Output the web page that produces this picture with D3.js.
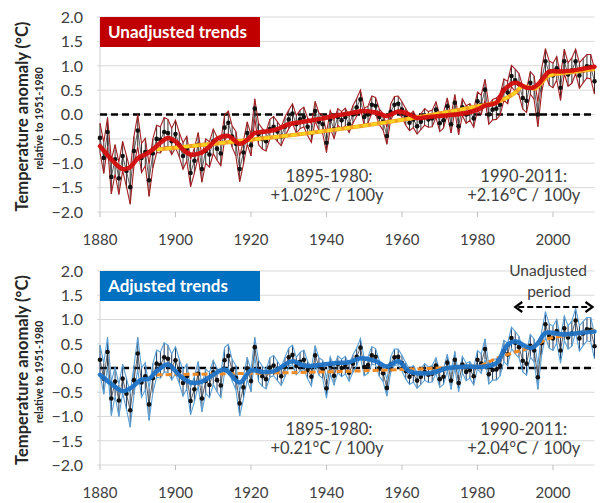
<!DOCTYPE html>
<html>
<head>
<meta charset="utf-8">
<script src="https://cdn.jsdelivr.net/npm/d3@7"></script>
<style>
body { margin: 0; background: #fff; }
text { font-family: Lato, "Open Sans", sans-serif; }
</style>
</head>
<body>
<svg id="mainsvg" width="612" height="503"></svg>
<script>
// years 1880..2011, one value per year
const firstYear = 1880;

const unadjusted = [
  -0.48, -0.89, -0.36, -1.28, -0.92, -1.31, -0.85, -1.16, -1.49, -0.75,
  -0.33, -0.89, -0.77, -1.35, -0.80, -0.50, -0.52, -0.36, -0.38, -0.55,
  -0.40, -0.62, -0.85, -0.70, -1.20, -0.95, -0.62, -1.12, -0.75, -0.82,
  -0.55, -0.70, -0.80, -0.27, -0.17, -0.45, -0.60, -1.12, -0.78, -0.38,
  -0.63, 0.12, -0.40, -0.50, -0.55, -0.30, -0.25, -0.35, -0.45, -0.25,
  -0.10, 0.02, -0.20, -0.10, -0.05, -0.25, -0.38, 0.07, -0.15, -0.20,
  -0.58, -0.10, -0.30, -0.05, -0.12, -0.05, -0.20, 0.00, 0.15, 0.31,
  -0.05, 0.00, 0.20, 0.18, -0.05, -0.15, -0.44, 0.05, 0.20, 0.22,
  0.10, -0.05, -0.17, -0.10, -0.24, -0.15, -0.05, -0.10, -0.08, 0.10,
  -0.18, -0.12, 0.17, -0.20, 0.24, -0.24, 0.15, 0.00, 0.05, -0.08,
  0.27, 0.20, 0.51, 0.00, 0.10, 0.12, 0.20, 0.51, 0.45, 0.79,
  0.70, 0.62, 0.34, 0.28, 0.65, 0.55, 0.00, 0.70, 1.09, 0.85,
  0.80, 0.95, 0.55, 1.09, 0.82, 0.90, 1.09, 0.80, 0.90, 0.99,
  0.98, 0.68
];

const adjusted = [
  0.17, -0.22, 0.33, -0.63, -0.28, -0.67, -0.22, -0.53, -0.87, -0.25,
  0.30, -0.30, -0.17, -0.75, -0.21, 0.09, 0.06, 0.22, 0.19, 0.02,
  0.16, -0.07, -0.31, -0.17, -0.68, -0.44, -0.12, -0.63, -0.27, -0.35,
  -0.09, -0.25, -0.36, 0.16, 0.25, -0.04, -0.20, -0.73, -0.40, -0.01,
  -0.27, 0.43, -0.06, -0.17, -0.23, 0.01, 0.05, -0.06, -0.17, 0.02,
  0.22, 0.27, 0.04, 0.13, 0.17, -0.04, -0.18, 0.26, 0.03, -0.03,
  -0.42, 0.05, -0.16, 0.08, 0.00, 0.06, -0.10, 0.09, 0.23, 0.42,
  0.02, 0.06, 0.26, 0.23, -0.01, -0.11, -0.41, 0.07, 0.22, 0.23,
  0.10, -0.06, -0.18, -0.12, -0.26, -0.18, -0.08, -0.14, -0.12, 0.05,
  -0.23, -0.18, 0.11, -0.26, 0.17, -0.31, 0.07, -0.08, -0.04, -0.17,
  0.17, 0.09, 0.39, -0.13, -0.04, -0.03, 0.05, 0.35, 0.28, 0.62,
  0.52, 0.43, 0.15, 0.09, 0.46, 0.36, -0.19, 0.51, 0.90, 0.66,
  0.61, 0.76, 0.36, 0.82, 0.63, 0.71, 0.98, 0.61, 0.71, 0.80,
  0.79, 0.45
];

// half width of the uncertainty band, per year
const spread = [
  0.30, 0.32, 0.30, 0.35, 0.30, 0.33, 0.30, 0.32, 0.35, 0.30,
  0.33, 0.30, 0.28, 0.33, 0.30, 0.28, 0.27, 0.30, 0.28, 0.27,
  0.28, 0.25, 0.27, 0.25, 0.28, 0.26, 0.25, 0.27, 0.25, 0.26,
  0.25, 0.24, 0.25, 0.26, 0.24, 0.22, 0.25, 0.26, 0.24, 0.23,
  0.22, 0.20, 0.22, 0.21, 0.20, 0.20, 0.21, 0.20, 0.19, 0.20,
  0.19, 0.20, 0.18, 0.19, 0.20, 0.18, 0.19, 0.20, 0.18, 0.19,
  0.20, 0.18, 0.19, 0.17, 0.18, 0.18, 0.17, 0.18, 0.18, 0.19,
  0.18, 0.17, 0.18, 0.17, 0.16, 0.17, 0.17, 0.16, 0.17, 0.16,
  0.16, 0.17, 0.16, 0.17, 0.16, 0.16, 0.17, 0.16, 0.17, 0.16,
  0.17, 0.16, 0.17, 0.18, 0.17, 0.18, 0.17, 0.18, 0.17, 0.18,
  0.19, 0.20, 0.21, 0.20, 0.21, 0.22, 0.21, 0.22, 0.23, 0.22,
  0.23, 0.22, 0.23, 0.24, 0.23, 0.24, 0.25, 0.24, 0.26, 0.25,
  0.25, 0.24, 0.26, 0.25, 0.24, 0.26, 0.25, 0.26, 0.25, 0.24,
  0.25, 0.26
];

// smoothed curves (thick lines)
const smoothYearsU = [1880, 1883, 1886, 1888, 1890, 1892, 1894, 1896, 1898, 1900, 1902, 1904, 1907, 1909, 1911, 1914, 1917, 1919, 1921, 1924, 1927, 1930, 1933, 1936, 1939, 1942, 1946, 1950, 1953, 1956, 1959, 1962, 1964, 1967, 1970, 1974, 1977, 1980, 1982, 1985, 1987, 1990, 1993, 1995, 1997, 1999, 2002, 2005, 2008, 2011];
const smoothU = [-0.65, -0.92, -1.12, -1.08, -0.90, -0.82, -0.72, -0.58, -0.48, -0.55, -0.72, -0.82, -0.78, -0.66, -0.50, -0.44, -0.60, -0.52, -0.38, -0.35, -0.30, -0.20, -0.16, -0.12, -0.08, -0.03, 0.02, 0.07, 0.04, -0.03, 0.06, 0.00, -0.07, -0.05, -0.03, 0.00, 0.03, 0.10, 0.18, 0.24, 0.50, 0.65, 0.55, 0.56, 0.70, 0.88, 0.88, 0.90, 0.94, 0.98];

const smoothYearsA = [1880, 1883, 1886, 1888, 1891, 1893, 1895, 1898, 1901, 1904, 1907, 1910, 1913, 1917, 1920, 1923, 1926, 1931, 1934, 1937, 1942, 1946, 1949, 1953, 1956, 1959, 1962, 1968, 1972, 1977, 1982, 1985, 1988, 1990, 1994, 1996, 1998, 2003, 2008, 2011];
const smoothA = [-0.14, -0.33, -0.48, -0.42, -0.24, -0.22, -0.07, 0.07, -0.15, -0.30, -0.28, -0.14, -0.03, -0.30, -0.05, -0.08, -0.07, 0.14, 0.05, 0.05, 0.10, 0.12, 0.20, 0.14, 0.03, 0.14, -0.07, -0.10, 0.00, 0.03, 0.03, 0.10, 0.48, 0.55, 0.41, 0.51, 0.72, 0.69, 0.73, 0.75];

// trend lines
const trendYearsU = [1895, 1980, 1985, 1990, 1992, 1995, 1999, 2004, 2011];
const trendU = [-0.72, 0.17, 0.25, 0.45, 0.58, 0.53, 0.80, 0.86, 0.93];
const trendYearsA = [1895, 1980, 1985, 1990, 1995, 1998, 2004, 2011];
const trendA = [-0.14, 0.04, 0.20, 0.33, 0.45, 0.58, 0.68, 0.78];

// text
const yTicks = [-2, -1.5, -1, -0.5, 0, 0.5, 1, 1.5, 2];
const xTicks = [1880, 1900, 1920, 1940, 1960, 1980, 2000];
const periods = ['1895-1980:', '1990-2011:'];
const periodCentres = [1932, 1992];
const ratesU = ['+1.02°C / 100y', '+2.16°C / 100y'];
const ratesA = ['+0.21°C / 100y', '+2.04°C / 100y'];

var svg = d3.select('#mainsvg');

var xScale = d3.scaleLinear()
    .domain([1880, 2011])
    .range([100, 594.5]);

function rows(vals) {
    return vals.map((v, i) => ({year: firstYear + i, v: v, lo: v - spread[i], hi: v + spread[i]}));
}

function drawPanel(p) {
    var yScale = d3.scaleLinear().domain([-2, 2]).range([p.bottom, p.top]);
    var g = svg.append('g');

    // gridlines
    g.selectAll('.grid').data(yTicks).enter().append('line')
        .attr('x1', 97).attr('x2', xScale(2011))
        .attr('y1', d => yScale(d)).attr('y2', d => yScale(d))
        .attr('stroke', '#d9d9d9').attr('stroke-width', 1);
    g.append('line')
        .attr('x1', 100).attr('x2', 100)
        .attr('y1', yScale(2)).attr('y2', yScale(-2))
        .attr('stroke', '#d0d0d0');

    // y tick labels
    g.selectAll('.ylab').data(yTicks).enter().append('text')
        .attr('x', 83).attr('y', d => yScale(d))
        .attr('dy', '0.36em')
        .attr('text-anchor', 'end')
        .attr('font-size', 16)
        .attr('fill', '#404040')
        .text(d => d3.format('.1f')(d));

    // x ticks + labels
    g.selectAll('.xt').data(xTicks).enter().append('line')
        .attr('x1', d => xScale(d)).attr('x2', d => xScale(d))
        .attr('y1', yScale(-2)).attr('y2', yScale(-2) + 5)
        .attr('stroke', '#bfbfbf');
    g.selectAll('.xlab').data(xTicks).enter().append('text')
        .attr('x', d => xScale(d)).attr('y', yScale(-2) + 33)
        .attr('text-anchor', 'middle')
        .attr('font-size', 15)
        .attr('fill', '#404040')
        .text(d => d);

    // axis title
    var cy = (p.top + p.bottom) / 2 + 2;
    g.append('text')
        .attr('transform', 'translate(28,' + cy + ') rotate(-90)')
        .attr('text-anchor', 'middle')
        .attr('font-size', 16.5).attr('font-weight', 'bold')
        .attr('fill', '#262626')
        .text('Temperature anomaly (°C)');
    g.append('text')
        .attr('transform', 'translate(43,' + (cy + 2) + ') rotate(-90)')
        .attr('text-anchor', 'middle')
        .attr('font-size', 10.5).attr('font-weight', 'bold')
        .attr('fill', '#262626')
        .text('relative to 1951-1980');

    // zero line
    g.append('line')
        .attr('x1', 100).attr('x2', xScale(2011))
        .attr('y1', yScale(0)).attr('y2', yScale(0))
        .attr('stroke', '#000').attr('stroke-width', 2.4)
        .attr('stroke-dasharray', '7,4');

    var data = rows(p.values);
    var line = d3.line().x(d => xScale(d.year));

    // high-low bars
    g.selectAll('.hl').data(data).enter().append('line')
        .attr('x1', d => xScale(d.year)).attr('x2', d => xScale(d.year))
        .attr('y1', d => yScale(d.lo)).attr('y2', d => yScale(d.hi))
        .attr('stroke', p.barColor).attr('stroke-width', 1);

    // band outlines
    g.append('path').datum(data)
        .attr('d', line.y(d => yScale(d.hi)))
        .attr('fill', 'none').attr('stroke', p.bandColor).attr('stroke-width', 1.1);
    g.append('path').datum(data)
        .attr('d', line.y(d => yScale(d.lo)))
        .attr('fill', 'none').attr('stroke', p.bandColor).attr('stroke-width', 1.1);

    // annual values
    g.append('path').datum(data)
        .attr('d', line.y(d => yScale(d.v)))
        .attr('fill', 'none').attr('stroke', '#333').attr('stroke-width', 0.8);
    g.selectAll('.dot').data(data).enter().append('circle')
        .attr('cx', d => xScale(d.year)).attr('cy', d => yScale(d.v))
        .attr('r', 2.3).attr('fill', '#111');

    // trend
    var curve = d3.line().x(d => xScale(d[0])).y(d => yScale(d[1])).curve(d3.curveMonotoneX);
    var trend = d3.zip(p.trendYears, p.trend);
    if (p.trendUnder) {
        g.append('path').datum(trend)
            .attr('d', curve)
            .attr('fill', 'none').attr('stroke', p.trendUnder).attr('stroke-width', 4);
    }
    g.append('path').datum(trend)
        .attr('d', curve)
        .attr('fill', 'none').attr('stroke', p.trendColor).attr('stroke-width', 3)
        .attr('stroke-dasharray', '6,3');

    // smooth
    var smooth = d3.zip(p.smoothYears, p.smooth);
    g.append('path').datum(smooth)
        .attr('d', curve.curve(d3.curveCatmullRom.alpha(0.5)))
        .attr('fill', 'none').attr('stroke', p.smoothColor).attr('stroke-width', 4.5)
        .attr('stroke-linecap', 'round').attr('stroke-opacity', 0.95);

    // label box
    g.append('rect')
        .attr('x', 100).attr('y', p.top)
        .attr('width', 160).attr('height', 30)
        .attr('fill', p.boxColor);
    g.append('text')
        .attr('x', 108).attr('y', p.top + 21)
        .attr('font-size', 17).attr('font-weight', 'bold')
        .attr('fill', '#fff')
        .text(p.label);

    // period annotations
    periods.forEach(function (t, i) {
        var cx = xScale(periodCentres[i]) + (i == 1 ? 1 : 0);
        g.append('text')
            .attr('x', i == 0 ? 329 : cx).attr('y', yScale(-1.38))
            .attr('text-anchor', 'middle')
            .attr('font-size', 16.5).attr('fill', '#404040')
            .text(t);
        g.append('text')
            .attr('x', i == 0 ? 327 : cx).attr('y', yScale(-1.38) + 19.5)
            .attr('text-anchor', 'middle')
            .attr('font-size', 16.5).attr('fill', '#404040')
            .text(p.rates[i]);
    });
    return {g: g, y: yScale};
}

drawPanel({
    top: 17, bottom: 212, values: unadjusted,
    barColor: '#3a2a2a', bandColor: '#a51e22',
    smoothYears: smoothYearsU, smooth: smoothU, smoothColor: '#d40d0d',
    trendYears: trendYearsU, trend: trendU, trendColor: '#ffd21f', trendUnder: '#f5a020',
    boxColor: '#c00000', label: 'Unadjusted trends', rates: ratesU
});

var bottom = drawPanel({
    top: 271, bottom: 465, values: adjusted,
    barColor: '#1d3b63', bandColor: '#5aa0d6',
    smoothYears: smoothYearsA, smooth: smoothA, smoothColor: '#1f73c6',
    trendYears: trendYearsA, trend: trendA, trendColor: '#f28a24', trendUnder: null,
    boxColor: '#0070c0', label: 'Adjusted trends', rates: ratesA
});

// "Unadjusted period" note
var bg = bottom.g;
bg.append('text')
    .attr('x', 548).attr('y', 276)
    .attr('text-anchor', 'middle').attr('font-size', 15.5).attr('fill', '#404040')
    .text('Unadjusted');
bg.append('text')
    .attr('x', 549).attr('y', 297)
    .attr('text-anchor', 'middle').attr('font-size', 15.5).attr('fill', '#404040')
    .text('period');
var ay = 307, ax1 = xScale(1990), ax2 = xScale(2011) - 2;
bg.append('line')
    .attr('x1', ax1 + 3).attr('x2', ax2 - 3).attr('y1', ay).attr('y2', ay)
    .attr('stroke', '#000').attr('stroke-width', 2.2).attr('stroke-dasharray', '6,3');
bg.append('path')
    .attr('d', 'M' + (ax1 + 7) + ',' + (ay - 5) + 'L' + ax1 + ',' + ay + 'L' + (ax1 + 7) + ',' + (ay + 5))
    .attr('fill', 'none').attr('stroke', '#000').attr('stroke-width', 2.2);
bg.append('path')
    .attr('d', 'M' + (ax2 - 7) + ',' + (ay - 5) + 'L' + ax2 + ',' + ay + 'L' + (ax2 - 7) + ',' + (ay + 5))
    .attr('fill', 'none').attr('stroke', '#000').attr('stroke-width', 2.2);
</script>
</body>
</html>
